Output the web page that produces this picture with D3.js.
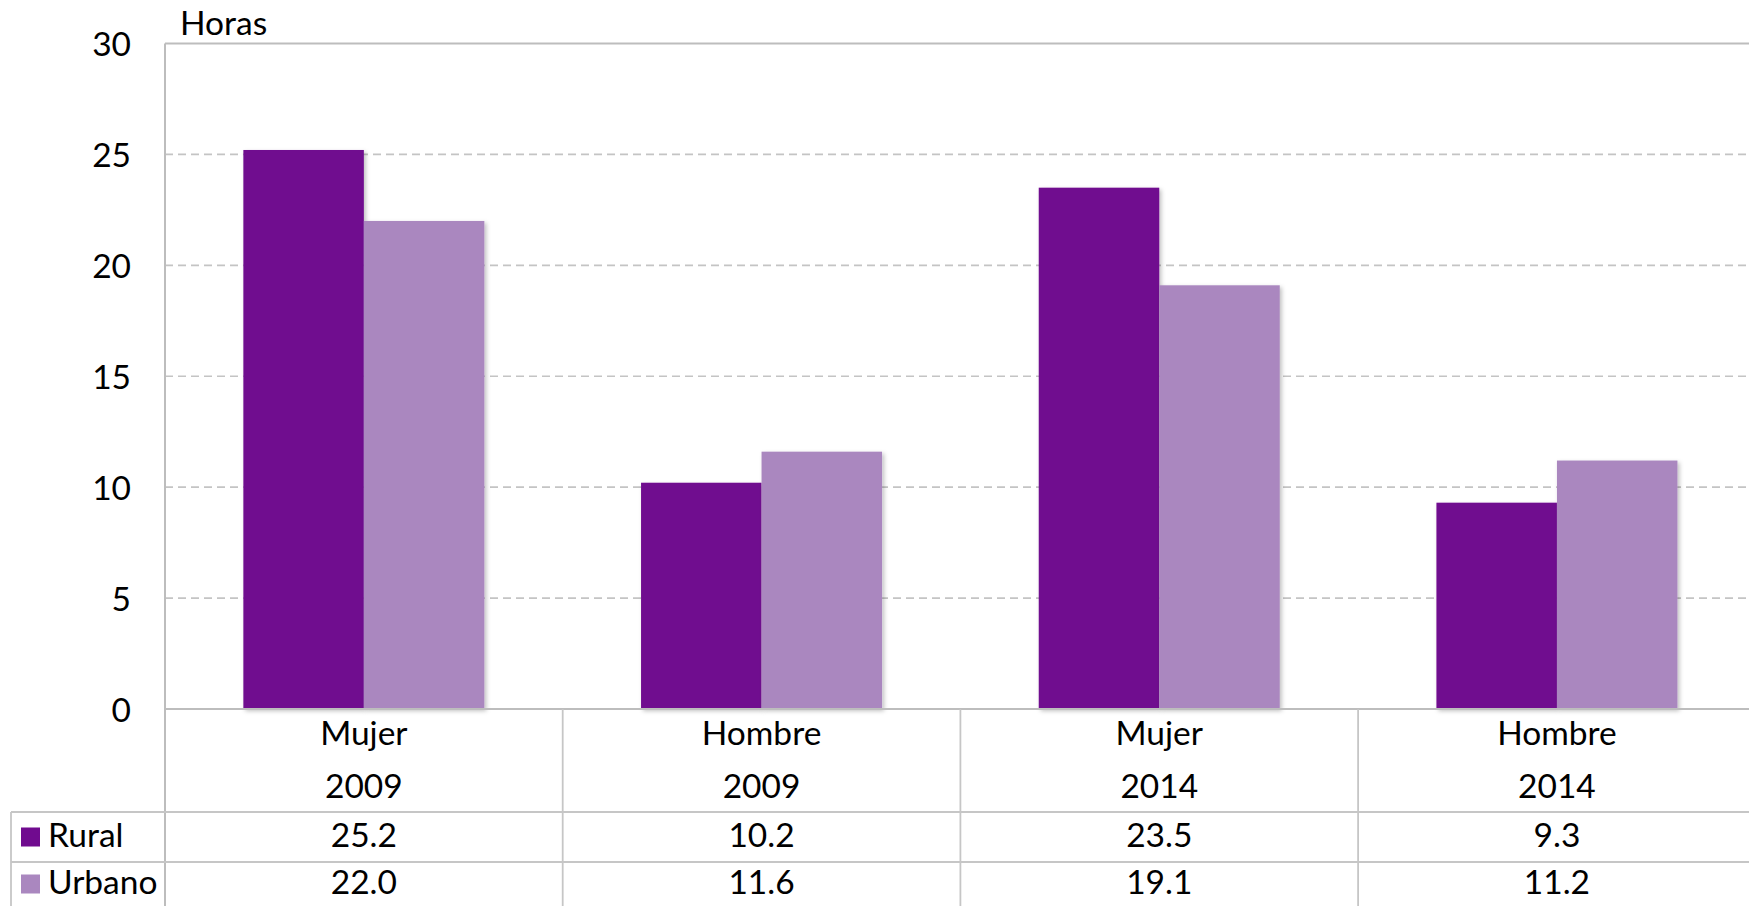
<!DOCTYPE html>
<html>
<head>
<meta charset="utf-8">
<script src="https://cdn.jsdelivr.net/npm/d3@7"></script>
<style>
  html, body { margin: 0; padding: 0; background: #fff; overflow: hidden; }
  svg { display: block; font-family: Lato, "Liberation Sans", sans-serif; }
</style>
</head>
<body>
<svg id="chart" width="1749" height="906"></svg>
<script>
const categories = ["Mujer", "Hombre", "Mujer", "Hombre"];
const years = ["2009", "2009", "2014", "2014"];
const seriesNames = ["Rural", "Urbano"];
const rural = [25.2, 10.2, 23.5, 9.3];
const urbano = [22.0, 11.6, 19.1, 11.2];
const yTicks = [0, 5, 10, 15, 20, 25, 30];
const yLabel = "Horas";

const colors = { Rural: "#700b8f", Urbano: "#aa87bf" };
const seriesValues = { Rural: rural, Urbano: urbano };

const svg = d3.select("#chart");
const W = 1749, H = 906;
const plotL = 165, plotR = 165 + 4 * 397.7;
const plotTop = 43.5, plotBottom = 709;
const tableL = 11;
const rowY = [812, 862];
const gridColor = "#c4c4c4";
const fontSize = 33.5;

const defs = svg.append("defs");
const f = defs.append("filter").attr("id", "shadow").attr("x", "-10%").attr("y", "-10%").attr("width", "130%").attr("height", "130%");
f.append("feDropShadow").attr("dx", 2).attr("dy", 2).attr("stdDeviation", 2).attr("flood-color", "#000").attr("flood-opacity", 0.25);

const idx = d3.range(categories.length);
const x = d3.scaleBand().domain(idx).range([plotL, plotR]).paddingInner(0).paddingOuter(0);
const xs = d3.scaleBand().domain(seriesNames)
  .range([x.bandwidth() * 0.197, x.bandwidth() * 0.803]).padding(0);
const y = d3.scaleLinear().domain([0, 30]).range([plotBottom, plotTop]);

// gridlines (dashed)
svg.append("g").selectAll("line")
  .data(yTicks.filter(t => t > 0 && t < 30))
  .join("line")
  .attr("x1", plotL).attr("x2", W)
  .attr("y1", d => y(d)).attr("y2", d => y(d))
  .attr("stroke", gridColor).attr("stroke-width", 1.6)
  .attr("stroke-dasharray", "8,5");

// top border at 30
svg.append("line")
  .attr("x1", plotL).attr("x2", W)
  .attr("y1", y(30)).attr("y2", y(30))
  .attr("stroke", "#bdbdbd").attr("stroke-width", 2);

// bars
const groups = svg.append("g").selectAll("g")
  .data(idx).join("g")
  .attr("transform", i => `translate(${x(i)},0)`);
groups.selectAll("rect")
  .data(i => seriesNames.map(s => ({ s, v: seriesValues[s][i] })))
  .join("rect")
  .attr("x", d => xs(d.s))
  .attr("width", xs.bandwidth())
  .attr("y", d => y(d.v))
  .attr("height", d => y(0) - y(d.v))
  .attr("fill", d => colors[d.s])
  .attr("filter", "url(#shadow)");

// y axis line
svg.append("line")
  .attr("x1", plotL).attr("x2", plotL)
  .attr("y1", plotTop).attr("y2", H)
  .attr("stroke", "#bdbdbd").attr("stroke-width", 2);

// zero axis line
svg.append("line")
  .attr("x1", plotL).attr("x2", W)
  .attr("y1", y(0)).attr("y2", y(0))
  .attr("stroke", "#bdbdbd").attr("stroke-width", 2);

// y axis labels
const yAxis = d3.axisLeft(y).tickValues(yTicks).tickSize(0).tickPadding(34).tickFormat(d3.format("d"));
const ya = svg.append("g").attr("transform", `translate(${plotL},0)`).call(yAxis);
ya.select(".domain").remove();
ya.selectAll("text").attr("font-size", fontSize).attr("fill", "#000")
  .attr("font-family", "Lato, sans-serif").attr("dy", "0.36em");

// axis title
svg.append("text").attr("x", 180).attr("y", 35)
  .attr("font-size", fontSize).attr("fill", "#000").text(yLabel);

// data table lines
const tbl = svg.append("g").attr("stroke", "#c6c6c6").attr("stroke-width", 1.8);
idx.concat([categories.length]).forEach(i => {
  const xx = i < categories.length ? x(i) : plotR;
  if (i > 0) tbl.append("line").attr("x1", xx).attr("x2", xx).attr("y1", y(0)).attr("y2", H);
});
tbl.append("line").attr("x1", tableL).attr("x2", tableL).attr("y1", rowY[0]).attr("y2", H);
rowY.forEach(ry => tbl.append("line").attr("x1", tableL).attr("x2", W).attr("y1", ry).attr("y2", ry));

// category labels
const lab = svg.append("g").attr("font-size", fontSize).attr("fill", "#000").attr("text-anchor", "middle");
idx.forEach(i => {
  const cx = x(i) + x.bandwidth() / 2;
  lab.append("text").attr("x", cx).attr("y", 745).text(categories[i]);
  lab.append("text").attr("x", cx).attr("y", 798).text(years[i]);
  lab.append("text").attr("x", cx).attr("y", 847).text(d3.format(".1f")(rural[i]));
  lab.append("text").attr("x", cx).attr("y", 894).text(d3.format(".1f")(urbano[i]));
});

// legend keys in table
const legY = [847, 894];
seriesNames.forEach((s, k) => {
  svg.append("rect").attr("x", 21).attr("y", legY[k] - 19.5).attr("width", 19).attr("height", 19)
    .attr("fill", colors[s]);
  svg.append("text").attr("x", 48).attr("y", legY[k])
    .attr("font-size", fontSize).attr("fill", "#000").text(s);
});
</script>
</body>
</html>
